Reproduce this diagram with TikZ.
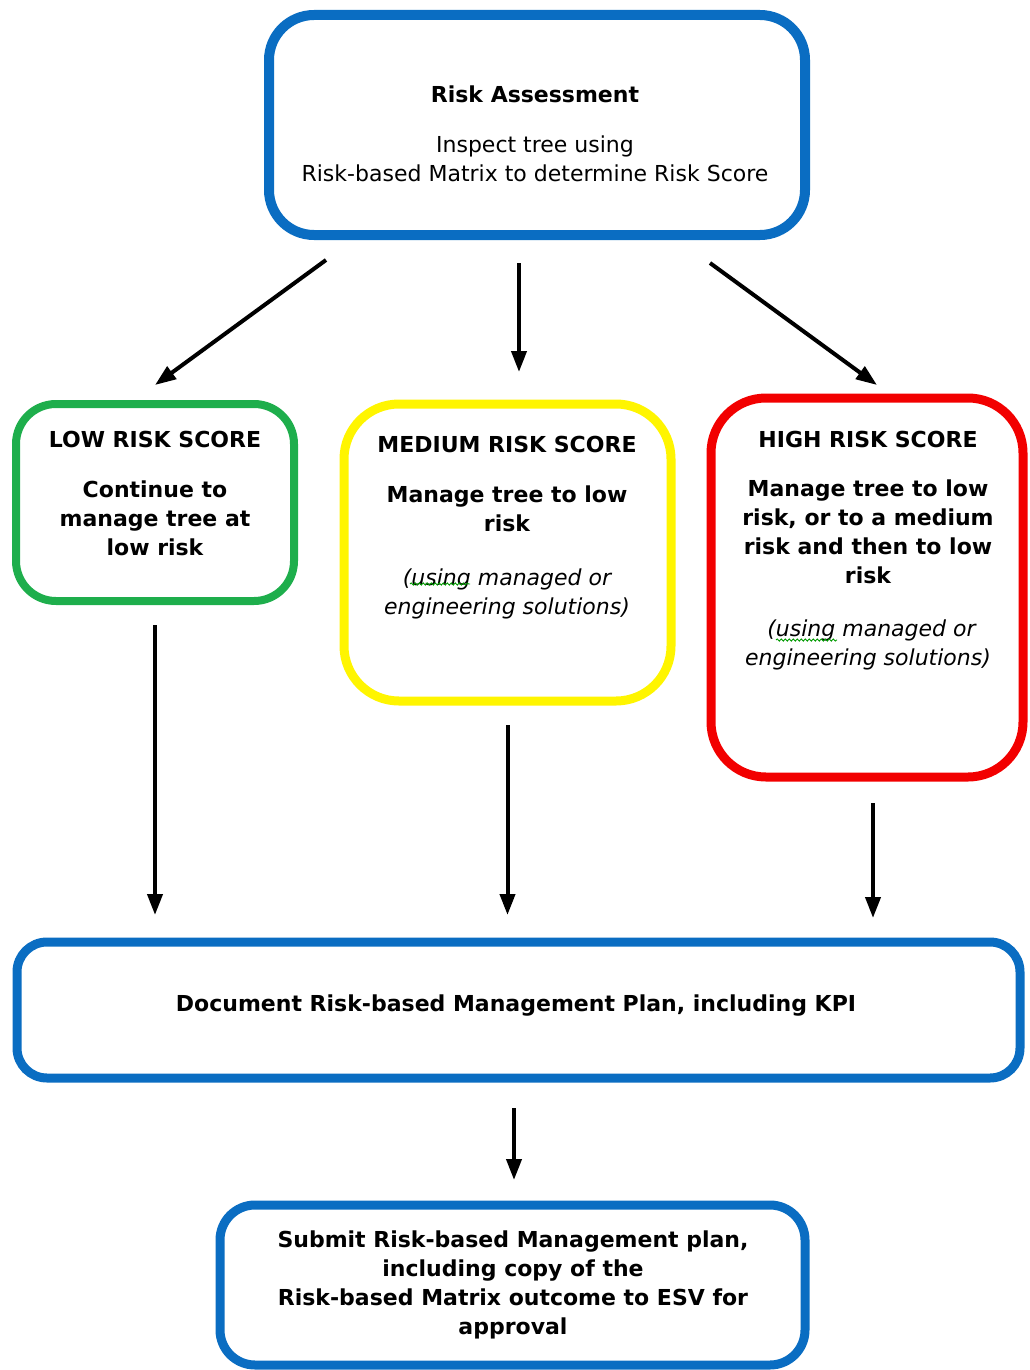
\documentclass[tikz,border=0pt]{standalone}
\usepackage{fontspec}
\setmainfont{DejaVu Sans}
\usetikzlibrary{arrows.meta,decorations.pathmorphing}
\definecolor{planblue}{HTML}{0A6DC2}
\definecolor{lowgreen}{HTML}{1EAE4C}
\definecolor{medyellow}{HTML}{FFF500}
\definecolor{highred}{HTML}{F20000}
\tikzset{riskbox/.style={draw,rounded corners=#1,inner sep=0pt,outer sep=0pt},riskbox/.default=45pt,
  boxtext/.style={anchor=north,inner sep=0pt,align=center,font=\fontsize{22}{29}\selectfont},
  flow/.style={-{Triangle[length=21pt,width=15pt]},line width=4pt},
  spell/.style={green!60!black,line width=0.9pt,decorate,decoration={snake,amplitude=1.1pt,segment length=4pt}}}

\begin{document}
\begin{tikzpicture}[x=1pt,y=-1pt]
  \useasboundingbox (0,0) rectangle (1029,1370);
  % boxes
  \node[riskbox=45pt,planblue,line width=10pt,minimum width=536pt,minimum height=220pt] (assess) at (537,125) {};
  \node[riskbox=40pt,lowgreen,line width=8pt,minimum width=278pt,minimum height=197pt] (low) at (155,502.5) {};
  \node[riskbox=55pt,medyellow,line width=9pt,minimum width=327pt,minimum height=297pt] (medium) at (507.5,552.5) {};
  \node[riskbox=55pt,highred,line width=9pt,minimum width=312pt,minimum height=379pt] (high) at (867,587.5) {};
  \node[riskbox=30pt,planblue,line width=9pt,minimum width=1003pt,minimum height=136pt] (plan) at (518.5,1010) {};
  \node[riskbox=35pt,planblue,line width=9pt,minimum width=585pt,minimum height=160pt] (submit) at (512.5,1285) {};
  % texts
  \node[boxtext] (assesstext) at (535,86) {\textbf{Risk Assessment}\\[21pt]Inspect tree using\\Risk-based Matrix to determine Risk Score};
  \node[boxtext,font=\fontsize{22}{29}\selectfont\bfseries] (lowtext) at (155,431) {LOW RISK SCORE\\[21pt]Continue to\\manage tree at\\low risk};
  \node[boxtext,font=\fontsize{22}{29}\selectfont\bfseries] (mediumtext) at (507,436) {MEDIUM RISK SCORE\\[21pt]Manage tree to low\\risk\\[25pt]{\mdseries\itshape (using managed or}\\{\mdseries\itshape engineering solutions)}};
  \node[boxtext,font=\fontsize{22}{29}\selectfont\bfseries] (hightext) at (868,431) {HIGH RISK SCORE\\[20pt]Manage tree to low\\risk, or to a medium\\risk and then to low\\risk\\[24pt]{\mdseries\itshape \ (using managed or}\\{\mdseries\itshape engineering solutions)}};
  \node[boxtext,font=\fontsize{22}{29}\selectfont\bfseries] (plantext) at (516,995) {Document Risk-based Management Plan, including KPI};
  \node[boxtext,font=\fontsize{22}{29}\selectfont\bfseries] (submittext) at (513,1231) {Submit Risk-based Management plan,\\including copy of the\\Risk-based Matrix outcome to ESV for\\approval};
  \draw[spell] (410,584) -- (470,584);
  \draw[spell] (776,640) -- (837,640);
  % arrow ends
  \coordinate (lowout) at (326,260);
  \coordinate (lowin) at (155,385);
  \coordinate (highout) at (710,263);
  \coordinate (highin) at (877,385);
  \draw[flow] (lowout) -- (lowin);
  \draw[flow,shorten <=28pt,shorten >=32pt] (assess.south -| 519,0) -- (medium.north -| 519,0);
  \draw[flow] (highout) -- (highin);
  \draw[flow,shorten <=24pt,shorten >=27pt] (low.south) -- (low.south |- plan.north);
  \draw[flow,shorten <=24pt,shorten >=27pt] (medium.south) -- (medium.south |- plan.north);
  \draw[flow,shorten <=26pt,shorten >=24pt] (high.south -| 873,0) -- (plan.north -| 873,0);
  \draw[flow,shorten <=30pt,shorten >=25pt] (plan.south -| 514,0) -- (submit.north -| 514,0);
\end{tikzpicture}
\end{document}
